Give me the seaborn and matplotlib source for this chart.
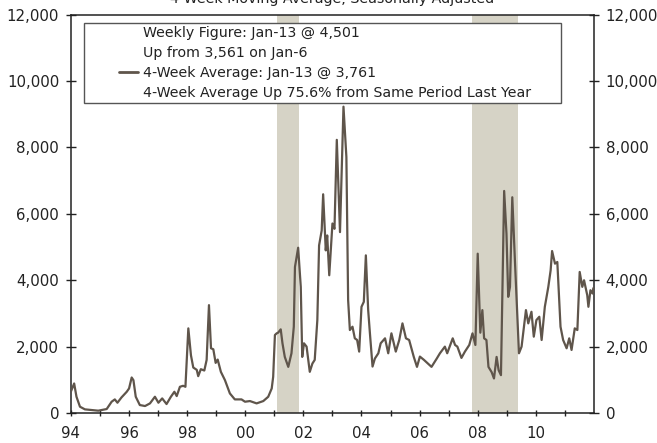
import numpy as np
import pandas as pd
import matplotlib
matplotlib.use('Agg')
import matplotlib.pyplot as plt
import seaborn as sns
from matplotlib.lines import Line2D
from matplotlib.legend_handler import HandlerLine2D
from matplotlib.ticker import FuncFormatter

LINE_COLOR = '#5f554b'
SHADE_COLOR = '#d6d3c6'

# 4-week moving average (decimal year, value)
years = [
    1994.00, 1994.11, 1994.19, 1994.31, 1994.48, 1994.94, 1995.23, 1995.40,
    1995.51, 1995.60, 1995.74, 1995.92, 1996.00, 1996.09, 1996.15, 1996.23,
    1996.37, 1996.55, 1996.72, 1996.89, 1997.01, 1997.14, 1997.29, 1997.44,
    1997.56, 1997.64, 1997.75, 1997.86, 1997.94, 1998.04, 1998.13, 1998.21,
    1998.33, 1998.38, 1998.47, 1998.59, 1998.67, 1998.75, 1998.82, 1998.90,
    1998.98, 1999.05, 1999.16, 1999.30, 1999.47, 1999.64, 1999.87, 1999.99,
    2000.16, 2000.39, 2000.62, 2000.79, 2000.91, 2000.96, 2001.02, 2001.08,
    2001.13, 2001.22, 2001.28, 2001.36, 2001.48, 2001.59, 2001.67, 2001.71,
    2001.82, 2001.91, 2001.96, 2002.02, 2002.11, 2002.22, 2002.31, 2002.39,
    2002.48, 2002.54, 2002.63, 2002.68, 2002.77, 2002.82, 2002.89, 2003.00,
    2003.07, 2003.15, 2003.26, 2003.38, 2003.48, 2003.54, 2003.60, 2003.69,
    2003.77, 2003.85, 2003.92, 2004.00, 2004.08, 2004.15, 2004.23, 2004.29,
    2004.38, 2004.46, 2004.58, 2004.66, 2004.81, 2004.92, 2005.03, 2005.18,
    2005.30, 2005.41, 2005.53, 2005.64, 2005.80, 2005.91, 2006.01, 2006.15,
    2006.41, 2006.59, 2006.70, 2006.87, 2006.95, 2007.14, 2007.22, 2007.30,
    2007.44, 2007.56, 2007.71, 2007.82, 2007.92, 2008.00, 2008.09, 2008.16,
    2008.22, 2008.30, 2008.37, 2008.48, 2008.56, 2008.65, 2008.72, 2008.80,
    2008.91, 2008.99, 2009.05, 2009.11, 2009.19, 2009.28, 2009.42, 2009.51,
    2009.66, 2009.74, 2009.85, 2009.93, 2010.02, 2010.12, 2010.20, 2010.31,
    2010.43, 2010.51, 2010.56, 2010.66, 2010.74, 2010.85, 2010.94, 2011.06,
    2011.15, 2011.23, 2011.34, 2011.43, 2011.51, 2011.60, 2011.66, 2011.77,
    2011.81, 2011.88, 2011.95, 2011.98,
]
values = [
    650, 890, 490, 190, 110, 70, 120, 340,
    410, 310, 470, 640, 740, 1070, 990, 490,
    240, 210, 290, 490, 310, 440, 270, 490,
    640, 510, 790, 820, 790, 2550, 1740, 1370,
    1300, 1110, 1320, 1280, 1600, 3250, 1950, 1920,
    1510, 1610, 1240, 990, 590, 410, 410, 340,
    360, 290, 360, 490, 740, 1090, 2350, 2400,
    2420, 2520, 2100, 1690, 1390, 1800, 2600, 4400,
    4980, 3800, 1690, 2100, 2000, 1240, 1490, 1600,
    2800, 5050, 5500, 6590, 4900, 5350, 4150, 5710,
    5550, 8230, 5450, 9230, 7710, 3400, 2500, 2600,
    2250, 2200, 1850, 3200, 3350, 4750, 3100, 2400,
    1400, 1640, 1800, 2100, 2250, 1800, 2400, 1850,
    2200, 2700, 2250, 2200, 1690, 1390, 1700, 1600,
    1390, 1640, 1800, 2000, 1800, 2250, 2050, 2000,
    1660, 1850, 2050, 2400, 2050, 4800, 2420, 3100,
    2250, 2200, 1390, 1230, 1040, 1690, 1290, 1140,
    6690, 5400, 3500, 3800, 6500, 4600, 1800, 2000,
    3100, 2700, 3050, 2300, 2800, 2900, 2200, 3200,
    3800, 4300, 4880, 4500, 4550, 2600, 2200, 1950,
    2250, 1900, 2550, 2500, 4250, 3800, 4000, 3550,
    3200, 3700, 3600, 3761,
]

# recession bands
recessions = [(2001.10, 2001.85), (2007.82, 2009.38)]

year_ticks = list(range(1994, 2012))
y_ticks = [0, 2000, 4000, 6000, 8000, 10000, 12000]

legend_labels = [
    'Weekly Figure: Jan-13 @ 4,501',
    'Up from 3,561 on Jan-6',
    '4-Week Average: Jan-13 @ 3,761',
    '4-Week Average Up 75.6% from Same Period Last Year',
]
title = '4-Week Moving Average, Seasonally Adjusted'


class RightHandle(HandlerLine2D):
    """Draw the legend line only in the right part of the handle box."""
    def create_artists(self, legend, orig_handle, xdescent, ydescent,
                       width, height, fontsize, trans):
        x0 = -xdescent + width * 0.62
        x1 = width - xdescent
        y = (height - ydescent) / 2
        line = Line2D([x0, x1], [y, y])
        self.update_prop(line, orig_handle, legend)
        line.set_transform(trans)
        return [line]


sns.set_theme(style='white')
plt.rcParams['font.family'] = ['DejaVu Sans']

df = pd.DataFrame({'year': years, 'value': values})

fig = plt.figure(figsize=(6.57, 4.43), dpi=100)
ax = fig.add_axes([0.108, 0.0677, 0.796, 0.8991])

for start, end in recessions:
    ax.axvspan(start, end, color=SHADE_COLOR, lw=0, zorder=0)

sns.lineplot(data=df, x='year', y='value', ax=ax, color=LINE_COLOR,
             linewidth=1.6, estimator=None, sort=False, zorder=3)

ax.set_xlim(1994, 2012)
ax.set_ylim(0, 12000)
ax.set_xlabel('')
ax.set_ylabel('')

ax.set_xticks(year_ticks)
ax.set_xticklabels([f'{y % 100:02d}' if y % 2 == 0 else '' for y in year_ticks])
ax.set_yticks(y_ticks)
ax.yaxis.set_major_formatter(FuncFormatter(lambda v, p: f'{v:,.0f}'))

ax.tick_params(axis='y', which='both', direction='inout', length=7, width=1,
               color='#222222', left=True, right=True, labelleft=True,
               labelright=True, labelsize=10.8, pad=5, labelcolor='#222222')
ax.tick_params(axis='x', which='both', direction='inout', length=5, width=1,
               color='#222222', bottom=True, labelsize=10.8, pad=7,
               labelcolor='#222222')

for side in ['left', 'right', 'bottom', 'top']:
    ax.spines[side].set_visible(True)
    ax.spines[side].set_color('#222222')
    ax.spines[side].set_linewidth(1.1)

handles = [
    Line2D([], [], color='none'),
    Line2D([], [], color='none'),
    Line2D([], [], color=LINE_COLOR, linewidth=2),
    Line2D([], [], color='none'),
]
leg = ax.legend(handles, legend_labels, loc='upper left',
                bbox_to_anchor=(0.0249, 0.786, 0.912, 0.193), mode='expand',
                borderaxespad=0, fontsize=10.2, handlelength=3.6,
                handletextpad=0.36, labelspacing=0.42, borderpad=0.22,
                fancybox=False, framealpha=1, edgecolor='#555555',
                handler_map={Line2D: RightHandle()})
leg.get_frame().set_linewidth(1.0)
for t in leg.get_texts():
    t.set_color('#222222')

fig.text(0.506, 1 - 3 / 443, title, ha='center', va='baseline',
         fontsize=10.3, color='#222222')

fig.savefig('out.png', dpi=100)
